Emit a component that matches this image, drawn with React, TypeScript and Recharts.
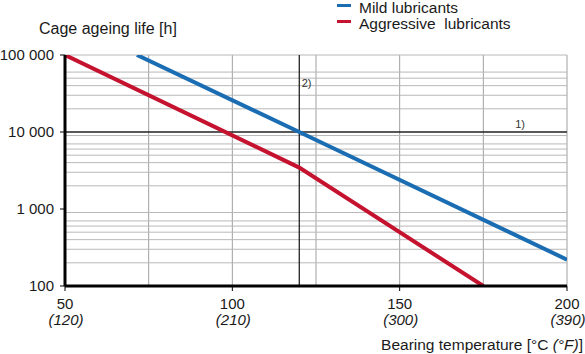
import React from 'react';
import {
  LineChart,
  Line,
  XAxis,
  YAxis,
  CartesianGrid,
  ReferenceLine,
  ReferenceDot,
  Legend,
  Label,
} from 'recharts';

// ---- data ----
const seriesNames = ['Mild lubricants', 'Aggressive  lubricants'];
const mildTemps = [71.5, 120, 200];
const mildLife = [100000, 10000, 220];
const aggressiveTemps = [50, 120, 175];
const aggressiveLife = [100000, 3450, 100];

const xTicks = [50, 100, 150, 200];
const xTicksF = ['(120)', '(210)', '(300)', '(390)'];
const yTicks = [100, 1000, 10000, 100000];
const yTickLabels = ['100', '1 000', '10 000', '100 000'];
const verticalGridValues = [75, 100, 125, 150, 175, 200];
const horizontalGridValues = [
  200, 300, 400, 500, 600, 700, 800, 900,
  2000, 3000, 4000, 5000, 6000, 7000, 8000, 9000,
  20000, 30000, 40000, 50000, 60000, 70000, 80000, 90000, 100000,
];
const markTemp = 120;
const markLife = 10000;
const notes = [
  { temp: 122.2, life: 43000, text: '2)' },
  { temp: 186, life: 12500, text: '1)' },
];

const mildData = mildTemps.map((t, i) => ({ temp: t, life: mildLife[i] }));
const aggressiveData = aggressiveTemps.map((t, i) => ({ temp: t, life: aggressiveLife[i] }));

const FONT = '"Liberation Sans", Arial, sans-serif';
const TEXT = '#1a1a1a';
const BLUE = '#1a6db3';
const RED = '#c4122f';

const XTick = (props: any) => {
  const { x, y, payload, index } = props;
  return (
    <g>
      <text x={x} y={y + 16} textAnchor="middle" fontSize={15} fill={TEXT} fontFamily={FONT}>
        {payload.value}
      </text>
      <text x={x + 1} y={y + 32} textAnchor="middle" fontSize={15} fontStyle="italic" fill={TEXT} fontFamily={FONT}>
        {xTicksF[index]}
      </text>
    </g>
  );
};

const renderLegend = (props: any) => {
  const payload = [...(props.payload || [])].sort(
    (a: any, b: any) => seriesNames.indexOf(a.value) - seriesNames.indexOf(b.value)
  );
  return (
    <div style={{ fontFamily: FONT, fontSize: 15.5, color: TEXT }}>
      {payload.map((e: any) => (
        <div key={e.value} style={{ display: 'flex', alignItems: 'flex-start', height: 16, lineHeight: '16px', whiteSpace: 'pre' }}>
          <span style={{ display: 'inline-block', width: 14, height: 3, background: e.color, marginTop: 4, marginRight: 8 }} />
          <span>{e.value}</span>
        </div>
      ))}
    </div>
  );
};

const YLabel = (props: any) => {
  const { viewBox } = props;
  return (
    <text x={viewBox.x + 39} y={viewBox.y - 21} fontSize={16} fill={TEXT} fontFamily={FONT}>
      Cage ageing life [h]
    </text>
  );
};

const XLabel = (props: any) => {
  const { viewBox } = props;
  return (
    <text x={viewBox.x + viewBox.width + 16} y={viewBox.y + 64} textAnchor="end" fontSize={15.5} fill={TEXT} fontFamily={FONT}>
      Bearing temperature [°C <tspan fontStyle="italic">(°F)</tspan>]
    </text>
  );
};

export default function App() {
  return (
    <div style={{ position: 'absolute', left: 0, top: 0, width: 585, height: 354, background: '#fff', fontFamily: FONT }}>
      <LineChart width={585} height={354} margin={{ top: 55, right: 18, left: 0, bottom: 0 }}>
        <CartesianGrid
          horizontal={false}
          vertical={true}
          verticalValues={verticalGridValues}
          stroke="#a0a0a0"
          strokeWidth={1}
        />
        <CartesianGrid
          horizontal={true}
          vertical={false}
          horizontalValues={horizontalGridValues}
          stroke="#b8b8b8"
          strokeWidth={1}
        />
        <XAxis
          dataKey="temp"
          type="number"
          domain={[50, 200]}
          ticks={xTicks}
          allowDataOverflow
          height={68}
          tickSize={5}
          tick={<XTick />}
          tickLine={{ stroke: '#000', strokeWidth: 1 }}
          axisLine={{ stroke: '#000', strokeWidth: 3 }}
        >
          <Label content={<XLabel />} />
        </XAxis>
        <YAxis
          dataKey="life"
          type="number"
          scale="log"
          domain={[100, 100000]}
          ticks={yTicks}
          allowDataOverflow
          width={65}
          tickSize={5}
          tickMargin={6}
          tickFormatter={(v: number) => yTickLabels[yTicks.indexOf(v)]}
          tick={{ fill: TEXT, fontSize: 15, fontFamily: FONT }}
          tickLine={{ stroke: '#000', strokeWidth: 1 }}
          axisLine={{ stroke: '#000', strokeWidth: 3 }}
        >
          <Label content={<YLabel />} />
        </YAxis>
        <ReferenceLine y={markLife} stroke="#222" strokeWidth={1.3} />
        <ReferenceLine x={markTemp} stroke="#111" strokeWidth={1.2} />
        {notes.map((n) => (
          <ReferenceDot key={n.text} x={n.temp} y={n.life} r={0} fill="none" stroke="none">
            <Label value={n.text} position="center" fontSize={11} fill="#333" fontFamily={FONT} />
          </ReferenceDot>
        ))}
        <Legend
          layout="horizontal"
          verticalAlign="middle"
          align="center"
          content={renderLegend}
          wrapperStyle={{ top: 0, left: 337, width: 240, height: 36 }}
        />
        <Line
          data={mildData}
          dataKey="life"
          name={seriesNames[0]}
          stroke={BLUE}
          strokeWidth={4}
          dot={false}
          isAnimationActive={false}
          legendType="line"
        />
        <Line
          data={aggressiveData}
          dataKey="life"
          name={seriesNames[1]}
          stroke={RED}
          strokeWidth={4}
          dot={false}
          isAnimationActive={false}
          legendType="line"
        />
      </LineChart>
    </div>
  );
}
